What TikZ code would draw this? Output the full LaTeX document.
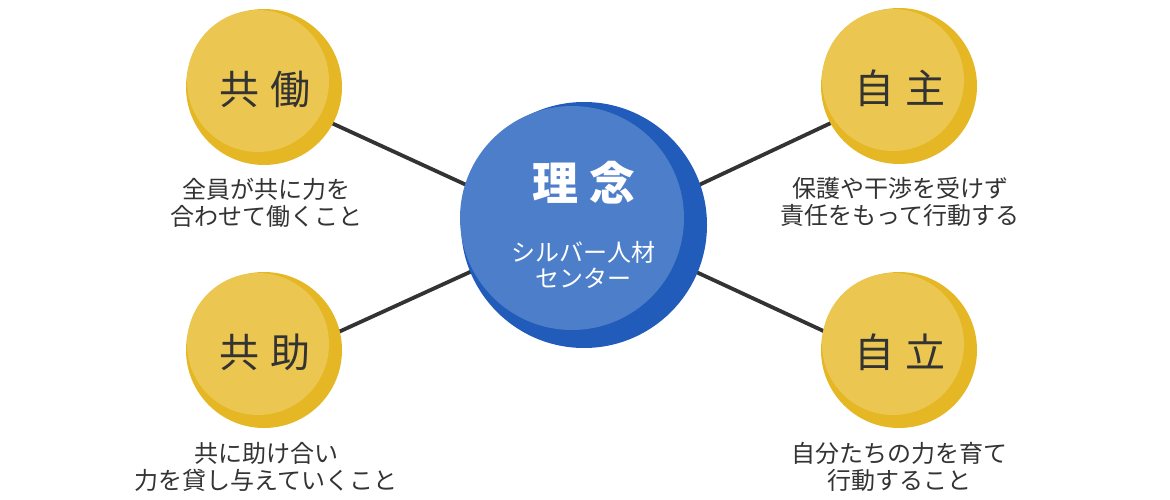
\documentclass[tikz,border=0pt]{standalone}
\usepackage{fontspec}
\setmainfont{Noto Sans CJK JP}
\usetikzlibrary{positioning, calc, backgrounds}

\definecolor{bluedark}{HTML}{215CBA}
\definecolor{bluelight}{HTML}{4D7EC9}
\definecolor{golddark}{HTML}{E5B724}
\definecolor{goldlight}{HTML}{EBC650}
\definecolor{inkgray}{HTML}{333333}

\begin{document}
\begin{tikzpicture}[
    x=1pt, y=-1pt,
    disc/.style={circle, fill=golddark, minimum size=156pt, inner sep=0pt},
    core/.style={circle, fill=bluedark, minimum size=246pt, inner sep=0pt, text=white},
    caption/.style={align=center, inner sep=2pt, text=inkgray,
        font=\fontsize{24}{27}\selectfont},
    spoke/.style={line width=3.8pt, inkgray},
]
    \useasboundingbox (0,0) rectangle (1170,500);

    % Centre disc
    \node[core] (rinen) at (584,225) {};
    \fill[bluelight] ($(rinen)+(-12,-7)$) circle (112pt);
    \node[text=white, font=\fontsize{46}{48}\selectfont\bfseries] (rinen-t) at (584,183)
        {理\hspace{12pt}念};
    \node[text=white, align=center, font=\fontsize{24}{26}\selectfont] (rinen-s) at (583,265)
        {シルバー人材\\センター};
    \coordinate (hub-up) at ($(rinen)+(0,14)$);
    \coordinate (hub-down) at ($(rinen)+(0,-5)$);

    % Four values round it
    \foreach \name/\x/\y/\a/\b in {
        kyodo/264/87/共/働, jishu/899/86/自/主,
        kyojo/264/350/共/助, jiritsu/899/350/自/立}
    {
        \node[disc] (\name) at (\x,\y) {};
        \fill[goldlight] ($(\name)+(-6,-6)$) circle (71pt);
        \node[font=\fontsize{40}{42}\selectfont, text=inkgray] at ($(\name)+(1,2)$)
            {\a\hspace{11pt}\b};
    }

    % Spokes behind the discs
    \begin{scope}[on background layer]
        \draw[spoke] ($(kyodo)+(0,5)$) -- (hub-up);
        \draw[spoke] ($(jishu)+(0,5)$) -- (hub-up);
        \draw[spoke] ($(kyojo)+(0,16)$) -- (hub-down);
        \draw[spoke] ($(jiritsu)+(0,16)$) -- (hub-down);
    \end{scope}

    % Captions
    \node[caption, below=11pt of kyodo, xshift=2pt] (kyodo-c)
        {全員が共に力を\\合わせて働くこと};
    \node[caption, below=11pt of jishu, xshift=1pt] (jishu-c)
        {保護や干渉を受けず\\責任をもって行動する};
    \node[caption, below=12pt of kyojo, xshift=2pt] (kyojo-c)
        {共に助け合い\\力を貸し与えていくこと};
    \node[caption, below=12pt of jiritsu] (jiritsu-c)
        {自分たちの力を育て\\行動すること};
\end{tikzpicture}
\end{document}
